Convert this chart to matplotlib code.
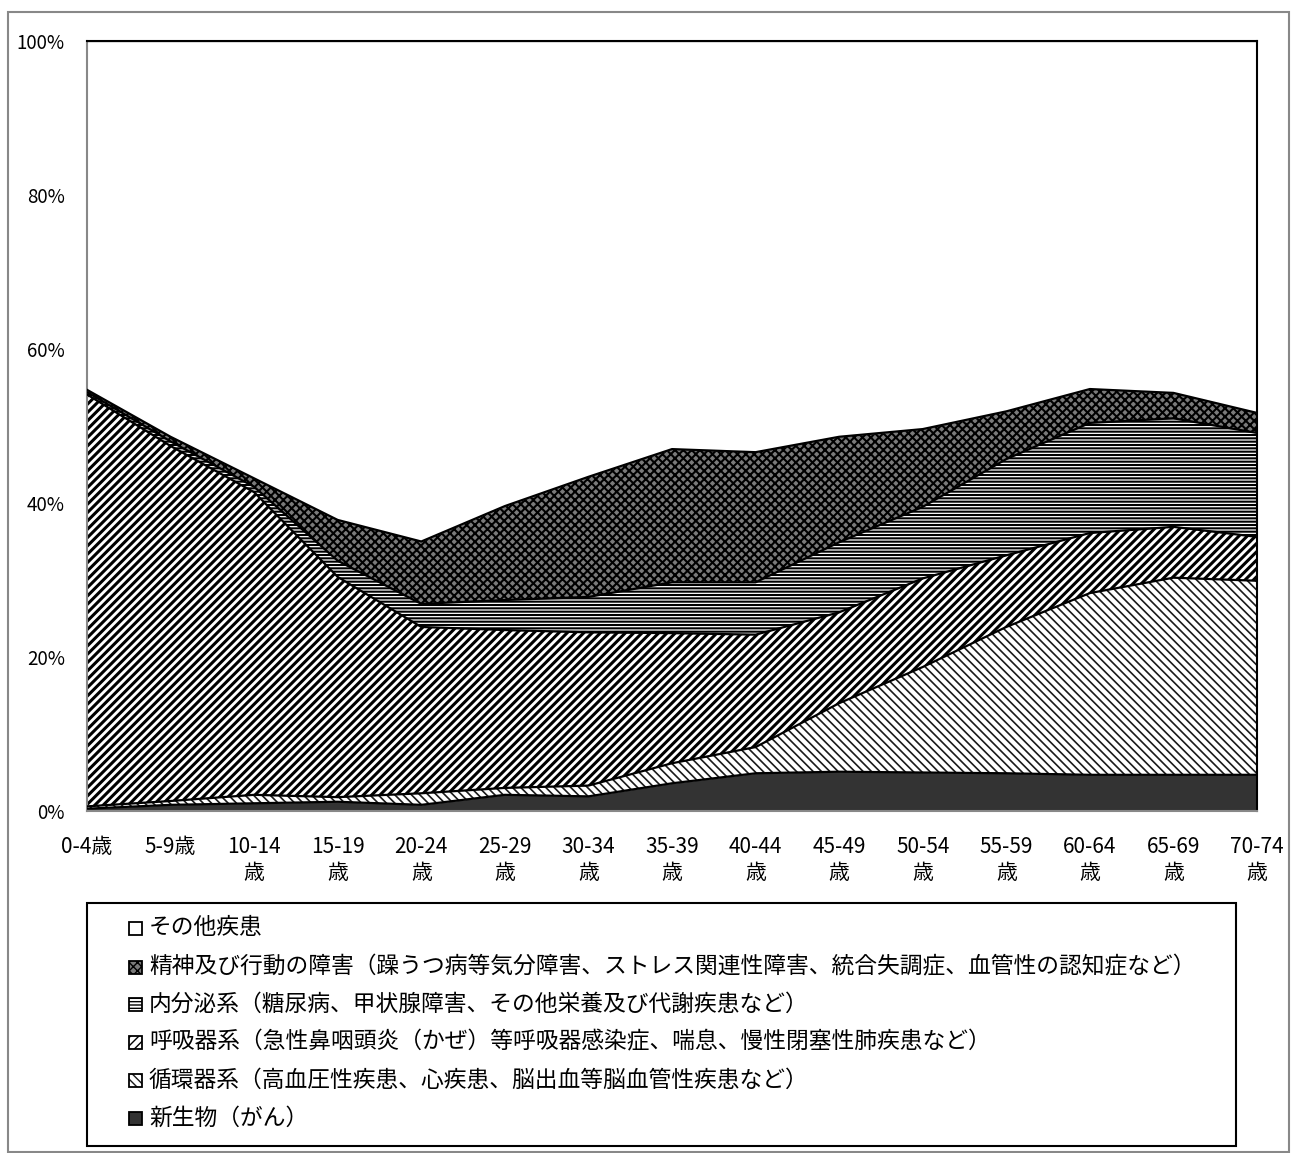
import numpy as np
import matplotlib
matplotlib.use('Agg')
import matplotlib.pyplot as plt
from matplotlib.patches import Rectangle

plt.rcParams['font.family'] = ['Noto Sans CJK JP', 'DejaVu Sans']

###: Data (percent of total, by age group)
ages = ['0-4歳', '5-9歳', '10-14\n歳', '15-19\n歳', '20-24\n歳', '25-29\n歳', '30-34\n歳',
        '35-39\n歳', '40-44\n歳', '45-49\n歳', '50-54\n歳', '55-59\n歳', '60-64\n歳',
        '65-69\n歳', '70-74\n歳']

neoplasm = [0.3, 0.8, 1.0, 1.2, 0.8, 2.1, 1.9, 3.6, 4.9, 5.1, 5.0, 4.9, 4.7, 4.7, 4.7]
circulatory = [0.3, 0.5, 1.1, 0.6, 1.5, 0.9, 1.4, 2.6, 3.4, 8.9, 13.7, 19.0, 23.6, 25.6, 25.2]
respiratory = [53.5, 46.1, 39.3, 28.6, 21.6, 20.5, 19.9, 16.9, 14.6, 11.8, 11.5, 9.3, 7.8, 6.6, 5.7]
endocrine = [0.3, 0.6, 0.7, 2.1, 3.0, 3.9, 4.6, 6.6, 6.8, 9.1, 9.3, 12.5, 14.3, 14.1, 13.5]
mental = [0.3, 0.6, 1.1, 5.3, 8.1, 12.2, 15.6, 17.3, 16.9, 13.7, 10.1, 6.2, 4.4, 3.3, 2.6]
other = [45.3, 51.4, 56.8, 62.2, 65.0, 60.4, 56.6, 53.0, 53.4, 51.4, 50.4, 48.1, 45.2, 45.7, 48.3]

names = ['新生物（がん）',
         '循環器系（高血圧性疾患、心疾患、脳出血等脳血管性疾患など）',
         '呼吸器系（急性鼻咽頭炎（かぜ）等呼吸器感染症、喘息、慢性閉塞性肺疾患など）',
         '内分泌系（糖尿病、甲状腺障害、その他栄養及び代謝疾患など）',
         '精神及び行動の障害（躁うつ病等気分障害、ストレス関連性障害、統合失調症、血管性の認知症など）',
         'その他疾患']

series = [neoplasm, circulatory, respiratory, endocrine, mental, other]

# face, hatch, hatch colour, hatch linewidth
styles = [('#333333', None, '#333333', 1.0),
          ('white', '\\\\\\\\', '#1a1a1a', 1.2),
          ('white', '////', 'black', 2.2),
          ('white', '-----', 'black', 1.5),
          ('#7a7a7a', 'xxxx', 'black', 1.5),
          ('white', None, 'white', 1.0)]

fig = plt.figure(figsize=(12.91, 11.53), dpi=100)
W, H = 1291, 1153
ax = fig.add_axes([87 / W, 1 - 811 / H, (1257 - 87) / W, (811 - 41) / H])

x = np.arange(len(ages))
base = np.zeros(len(ages))
tops = []
for vals, (fc, hatch, hc, hlw) in zip(series, styles):
    top = base + np.array(vals)
    with plt.rc_context({'hatch.linewidth': hlw}):
        coll = ax.fill_between(x, base, top, facecolor=fc, edgecolor=hc,
                               hatch=hatch, linewidth=0)
    if hasattr(coll, 'set_hatch_linewidth'):
        coll.set_hatch_linewidth(hlw)
    tops.append(top)
    base = top

for top in tops:
    ax.plot(x, top, color='black', lw=1.6, zorder=3, solid_joinstyle='round')

ax.set_xlim(0, len(ages) - 1)
ax.set_ylim(0, 100)
ax.set_yticks(range(0, 101, 20))
ax.set_yticklabels([f'{v}%' for v in range(0, 101, 20)], fontsize=13.5)
ax.set_xticks(x)
ax.set_xticklabels(ages, fontsize=15, linespacing=1.25)
ax.tick_params(axis='y', length=0, pad=16)
ax.tick_params(axis='x', length=0, pad=18)
for side in ['left', 'bottom']:
    ax.spines[side].set_color('#888888')
    ax.spines[side].set_linewidth(1.5)
for side in ['top', 'right']:
    ax.spines[side].set_color('black')
    ax.spines[side].set_linewidth(1.5)

###: Legend drawn by hand, reversed order
fig.patches.append(Rectangle((87 / W, 1 - 1146 / H), (1236 - 87) / W, (1146 - 903) / H,
                             transform=fig.transFigure, facecolor='white',
                             edgecolor='black', lw=1.5))
rows = [928, 967, 1004, 1042, 1080, 1118]
for i, row in enumerate(rows):
    k = len(series) - 1 - i
    fc, hatch, hc, hlw = styles[k]
    if k == len(series) - 1:
        hc = 'black'
    with plt.rc_context({'hatch.linewidth': 1.0}):
        sq = Rectangle((129 / W, 1 - (row + 6.5) / H), 13 / W, 13 / H,
                       transform=fig.transFigure, facecolor=fc, edgecolor=hc,
                       hatch=hatch, lw=0)
    fig.patches.append(sq)
    fig.patches.append(Rectangle((129 / W, 1 - (row + 6.5) / H), 13 / W, 13 / H,
                                 transform=fig.transFigure, facecolor='none',
                                 edgecolor='black', lw=1.3))
    fig.text(149 / W, 1 - row / H, names[k], fontsize=16.4, va='center', ha='left')

# outer chart border
fig.patches.append(Rectangle((8 / W, 1 / H), (1289 - 8) / W, (1152 - 12) / H,
                             transform=fig.transFigure, facecolor='none',
                             edgecolor='#888888', lw=1.5))

fig.savefig('out.png', dpi=100)
